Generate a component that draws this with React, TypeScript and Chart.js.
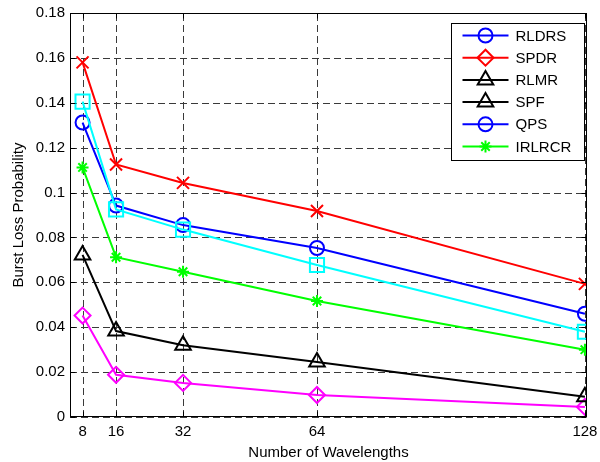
import React, { useEffect, useRef } from 'react';
import { Chart, registerables } from 'chart.js';
import { drawPoint } from 'chart.js/helpers';

Chart.register(...registerables);

const wavelengths = [8, 16, 32, 64, 128];
const xTickValues = [8, 16, 32, 64, 128];
const yTickValues = [0, 0.02, 0.04, 0.06, 0.08, 0.1, 0.12, 0.14, 0.16, 0.18];

const seriesRed = [0.158, 0.1125, 0.1043, 0.0918, 0.0593];
const seriesBlue = [0.1312, 0.0942, 0.0855, 0.0753, 0.046];
const seriesCyan = [0.1405, 0.0925, 0.0835, 0.0677, 0.038];
const seriesGreen = [0.1112, 0.0712, 0.0647, 0.0517, 0.03];
const seriesBlack = [0.0722, 0.0383, 0.032, 0.0245, 0.009];
const seriesMagenta = [0.0452, 0.0188, 0.0152, 0.0098, 0.0045];

const legendNames = ['RLDRS', 'SPDR', 'RLMR', 'SPF', 'QPS', 'IRLRCR'];
const legendColors = ['#0000ff', '#ff0000', '#000000', '#000000', '#0000ff', '#00ff00'];
const legendMarkers = ['circle', 'rectRot', 'triangle', 'triangle', 'circle', 'star'];

const FONT = '"Liberation Sans", Arial, sans-serif';
const FS = 15;

const markerRadius: Record<string, number> = {
  circle: 7,
  rect: 10,
  rectRot: 8,
  triangle: 9,
  star: 6,
  crossRot: 8.5,
};

const dashedGrid = {
  id: 'dashedGrid',
  beforeDatasetsDraw(chart: any) {
    const { ctx, chartArea: a, scales } = chart;
    ctx.save();
    ctx.strokeStyle = '#3a3a3a';
    ctx.lineWidth = 1;
    ctx.setLineDash([7, 4]);
    ctx.beginPath();
    xTickValues.forEach((v) => {
      const px = Math.round(scales.x.getPixelForValue(v)) + 0.5;
      ctx.moveTo(px, a.bottom);
      ctx.lineTo(px, a.top);
    });
    yTickValues.forEach((v) => {
      const py = Math.round(scales.y.getPixelForValue(v)) + 0.5;
      ctx.moveTo(a.left, py);
      ctx.lineTo(a.right, py);
    });
    ctx.stroke();
    ctx.restore();
  },
};

const frameAndLegend = {
  id: 'frameAndLegend',
  afterDatasetsDraw(chart: any) {
    const { ctx, chartArea: a, scales } = chart;
    ctx.save();
    ctx.setLineDash([]);
    ctx.strokeStyle = '#000';
    ctx.lineWidth = 1;
    const L = Math.round(a.left) + 0.5;
    const R = Math.round(a.right) - 0.5;
    const T = Math.round(a.top) + 0.5;
    const B = Math.round(a.bottom) - 0.5;
    ctx.strokeRect(L, T, R - L, B - T);
    const tl = 5;
    ctx.beginPath();
    xTickValues.forEach((v) => {
      const px = Math.round(scales.x.getPixelForValue(v)) + 0.5;
      ctx.moveTo(px, B);
      ctx.lineTo(px, B - tl);
      ctx.moveTo(px, T);
      ctx.lineTo(px, T + tl);
    });
    yTickValues.forEach((v) => {
      const py = Math.round(scales.y.getPixelForValue(v)) + 0.5;
      ctx.moveTo(L, py);
      ctx.lineTo(L + tl, py);
      ctx.moveTo(R, py);
      ctx.lineTo(R - tl, py);
    });
    ctx.stroke();

    // legend
    const boxR = Math.round(a.right) - 2.5;
    const boxL = boxR - 133;
    const boxT = Math.round(a.top) + 10.5;
    const rowH = 22.2;
    const boxB = boxT + 137;
    ctx.fillStyle = '#fff';
    ctx.fillRect(boxL, boxT, boxR - boxL, boxB - boxT);
    ctx.strokeStyle = '#000';
    ctx.lineWidth = 1;
    ctx.strokeRect(boxL, boxT, boxR - boxL, boxB - boxT);
    ctx.font = `${FS}px ${FONT}`;
    ctx.textBaseline = 'middle';
    ctx.textAlign = 'left';
    legendNames.forEach((name, i) => {
      const cy = boxT + 12 + i * rowH;
      const x0 = boxL + 11;
      const x1 = boxL + 57;
      ctx.strokeStyle = legendColors[i];
      ctx.lineWidth = 2;
      ctx.beginPath();
      ctx.moveTo(x0, cy);
      ctx.lineTo(x1, cy);
      ctx.stroke();
      ctx.fillStyle = 'rgba(0,0,0,0)';
      drawPoint(ctx, {
        pointStyle: legendMarkers[i],
        radius: markerRadius[legendMarkers[i]],
        rotation: 0,
        borderWidth: 2,
      } as any, (x0 + x1) / 2, cy);
      ctx.fillStyle = '#000';
      ctx.fillText(name, boxL + 64, cy + 1);
    });
    ctx.restore();
  },
};

function mk(label: string, values: number[], color: string, style: string) {
  return {
    label,
    data: wavelengths.map((x, i) => ({ x, y: values[i] })),
    borderColor: color,
    backgroundColor: color,
    borderWidth: 2,
    pointStyle: style,
    pointRadius: markerRadius[style],
    pointHoverRadius: markerRadius[style],
    pointBorderWidth: 2,
    pointBorderColor: color,
    pointBackgroundColor: 'rgba(0,0,0,0)',
    tension: 0,
    fill: false,
  };
}

export default function App() {
  const ref = useRef<HTMLCanvasElement>(null);
  useEffect(() => {
    if (!ref.current) return;
    const chart = new Chart(ref.current, {
      type: 'line',
      data: {
        datasets: [
          mk('cyan', seriesCyan, '#00ffff', 'rect'),
          mk('blue', seriesBlue, '#0000ff', 'circle'),
          mk('red', seriesRed, '#ff0000', 'crossRot'),
          mk('green', seriesGreen, '#00ff00', 'star'),
          mk('black', seriesBlack, '#000000', 'triangle'),
          mk('magenta', seriesMagenta, '#ff00ff', 'rectRot'),
        ],
      },
      options: {
        responsive: false,
        animation: false,
        layout: { padding: { top: 13, right: 13, left: 0, bottom: 0 } },
        plugins: { legend: { display: false }, tooltip: { enabled: false } },
        scales: {
          x: {
            type: 'linear',
            min: 5,
            max: 128.5,
            afterBuildTicks: (s: any) => {
              s.ticks = xTickValues.map((v) => ({ value: v }));
            },
            afterFit: (s: any) => {
              s.height = 45;
              s.paddingLeft = 0;
              s.paddingRight = 0;
            },
            grid: { display: false, drawTicks: false },
            border: { display: false },
            ticks: {
              color: '#000',
              font: { size: FS, family: FONT },
              padding: 6,
              maxRotation: 0,
              autoSkip: false,
              callback: (v: any) => String(v),
            },
            title: {
              display: true,
              text: 'Number of Wavelengths',
              color: '#000',
              font: { size: FS, family: FONT },
              padding: { top: 0, bottom: 0 },
            },
          },
          y: {
            type: 'linear',
            min: 0,
            max: 0.18,
            afterBuildTicks: (s: any) => {
              s.ticks = yTickValues.map((v) => ({ value: v }));
            },
            afterFit: (s: any) => {
              s.width = 70;
              s.paddingTop = 0;
              s.paddingBottom = 0;
            },
            grid: { display: false, drawTicks: false },
            border: { display: false },
            ticks: {
              color: '#000',
              font: { size: FS, family: FONT },
              padding: 5,
              autoSkip: false,
              callback: (v: any) => String(Math.round(Number(v) * 100) / 100),
            },
            title: {
              display: true,
              text: 'Burst Loss Probability',
              color: '#000',
              font: { size: FS, family: FONT },
              padding: { top: 10, bottom: 0 },
            },
          },
        },
      } as any,
      plugins: [dashedGrid, frameAndLegend],
    });
    return () => chart.destroy();
  }, []);
  return (
    <div style={{ position: 'fixed', left: 0, top: 0, width: 600, height: 462, background: '#fff' }}>
      <canvas ref={ref} width={600} height={462} />
    </div>
  );
}
